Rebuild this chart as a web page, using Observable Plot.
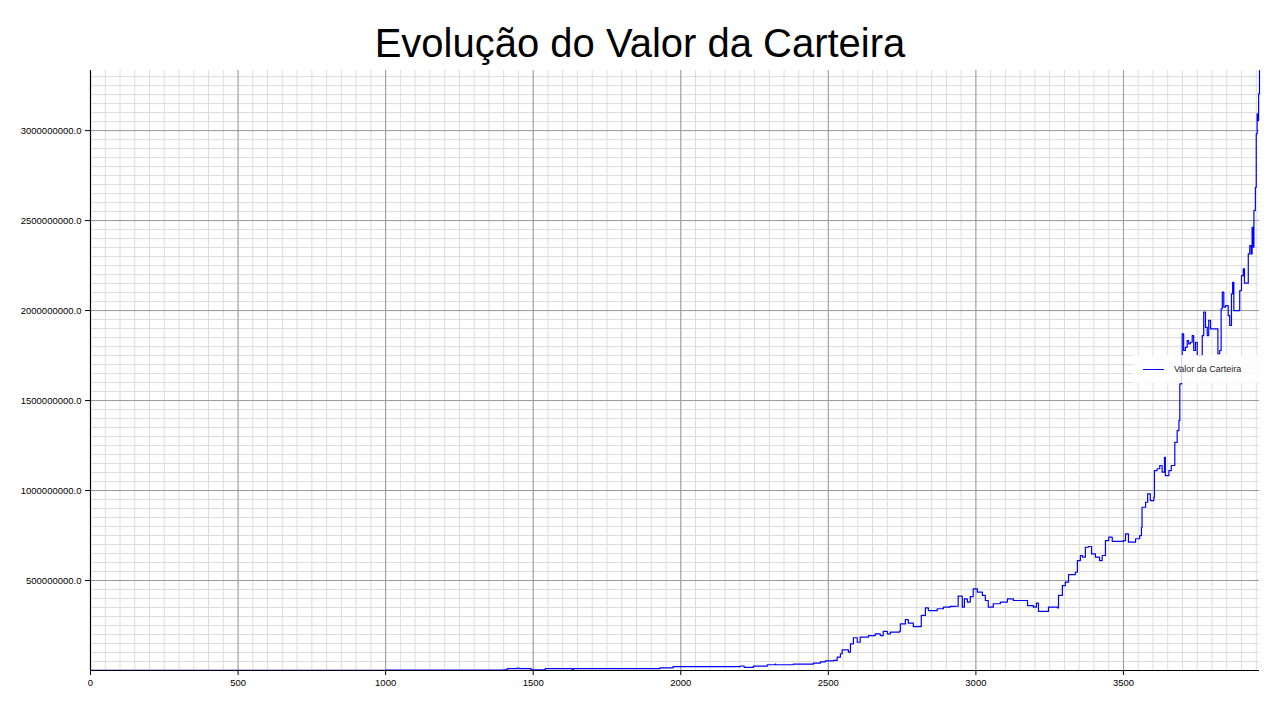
<!DOCTYPE html>
<html>
<head>
<meta charset="utf-8">
<script src="https://cdn.jsdelivr.net/npm/d3@7"></script>
<script src="https://cdn.jsdelivr.net/npm/@observablehq/plot@0.6"></script>
<style>
  html, body { margin: 0; padding: 0; background: #fff; }
  #wrap { position: relative; width: 1280px; height: 720px; font-family: "Liberation Sans", Arial, sans-serif; }
  #title { position: absolute; left: 0; top: 23px; width: 1280px; text-align: center; font-size: 40px; line-height: 40px; color: #000; }
  #legend { position: absolute; left: 1133px; top: 355px; width: 125px; height: 28px; background: rgba(255,255,255,0.85); }
  #legend .sw { position: absolute; left: 10px; top: 13.5px; width: 21px; height: 0; border-top: 1.2px solid #0000ff; }
  #legend .lb { position: absolute; left: 41px; top: 8px; font-size: 9px; line-height: 12px; color: #222; white-space: nowrap; }
</style>
</head>
<body>
<div id="wrap">
  <div id="chart"></div>
  <div id="title">Evolução do Valor da Carteira</div>
  <div id="legend"><div class="sw"></div><div class="lb">Valor da Carteira</div></div>
</div>
<script>
// Series: step index and portfolio value (in millions)
const passo = [0, 500, 1000, 1400, 1412, 1440, 1446, 1452, 1493, 1530, 1541, 1628, 1632, 1636, 1928, 1930, 1972, 1974, 2200, 2202, 2215, 2246, 2290, 2293, 2318, 2320, 2322, 2379, 2381, 2447, 2449, 2470, 2473, 2490, 2517,
  2530, 2541, 2547, 2568, 2575, 2585, 2598, 2608, 2636, 2659, 2676, 2686, 2700, 2710, 2741, 2744, 2761, 2771, 2788, 2805, 2815, 2829, 2839, 2869, 2890, 2913, 2930, 2940, 2954, 2961, 2971, 2981, 2991,
  3005, 3022, 3032, 3042, 3059, 3083, 3107, 3127, 3158, 3175, 3195, 3205, 3212, 3236, 3246, 3276, 3280, 3293, 3303, 3314, 3337, 3344, 3354, 3361, 3371, 3381, 3392, 3405, 3419, 3428, 3439, 3450, 3462,
  3500, 3507, 3517, 3541, 3555, 3561, 3563, 3575, 3582, 3591, 3603, 3605, 3614, 3623, 3631, 3639, 3642, 3654, 3662, 3671, 3674, 3682, 3688, 3691, 3697, 3699, 3704, 3710, 3716, 3721, 3727, 3733, 3738,
  3744, 3750, 3761, 3767, 3772, 3778, 3784, 3789, 3795, 3818, 3820, 3826, 3831, 3835, 3840, 3846, 3855, 3860, 3866, 3870, 3874, 3888, 3894, 3900, 3906, 3910, 3919, 3923, 3928, 3933, 3936, 3940, 3942,
  3947, 3950, 3953, 3956, 3958, 3961];
const valorMilhoes = [1, 1.5, 2, 3, 10, 10, 14, 10, 3, 3, 10, 10, 5, 10, 10, 15, 15, 21, 21, 25, 17, 24, 24, 32, 32, 36, 32, 32, 35, 35, 41, 41, 48, 54, 56,
  74, 93, 115, 102, 148, 182, 157, 185, 194, 204, 194, 217, 204, 213, 218, 259, 283, 263, 244, 244, 306, 348, 333, 343, 352, 356, 357, 413, 352, 398, 380, 411, 454,
  435, 417, 389, 352, 371, 380, 398, 389, 389, 361, 352, 374, 329, 329, 352, 348, 417, 472, 491, 533, 546, 611, 639, 630, 685, 689, 648, 630, 611, 639, 722, 741, 718,
  722, 759, 713, 732, 750, 796, 907, 935, 982, 944, 963, 1111, 1121, 1139, 1102, 1185, 1083, 1111, 1139, 1139, 1268, 1333, 1389, 1593, 1750, 1871, 1778, 1796, 1833, 1815, 1824, 1861, 1778,
  1824, 1750, 1750, 1861, 1991, 1907, 1861, 1945, 1898, 1898, 1760, 1778, 2010, 2102, 2019, 2028, 1972, 1917, 2093, 2157, 2000, 2000, 2111, 2194, 2232, 2152, 2152, 2315, 2361, 2315, 2463, 2352, 2556,
  2685, 2982, 3093, 3056, 3204, 3334];

const xTicks = [0, 500, 1000, 1500, 2000, 2500, 3000, 3500];
const yTicks = [500000000, 1000000000, 1500000000, 2000000000, 2500000000, 3000000000];

const dados = passo.map((p, i) => ({passo: p, valor: valorMilhoes[i] * 1e6}));
const xMax = d3.max(passo);
const yMax = d3.max(dados, d => d.valor);
const xMinor = d3.range(0, xMax + 1, 50);
const yMinor = d3.range(0, yMax + 1, 5e7);

const chart = Plot.plot({
  width: 1280,
  height: 720,
  marginTop: 70,
  marginBottom: 50,
  marginLeft: 90,
  marginRight: 21,
  style: {fontFamily: "'Liberation Sans', Arial, sans-serif", fontSize: "9.5px", color: "#000", background: "transparent"},
  x: {domain: [0, xMax], ticks: xTicks, tickFormat: d => String(d), tickSize: 5, tickPadding: 4, label: null},
  y: {domain: [0, yMax], ticks: yTicks, tickFormat: d => d.toFixed(1), tickSize: 5, tickPadding: 4, label: null},
  marks: [
    Plot.ruleX(xMinor, {stroke: "#dcdcdc", strokeWidth: 1}),
    Plot.ruleY(yMinor, {stroke: "#dcdcdc", strokeWidth: 1}),
    Plot.ruleX(xTicks, {stroke: "#9a9a9a", strokeWidth: 1}),
    Plot.ruleY(yTicks, {stroke: "#9a9a9a", strokeWidth: 1}),
    Plot.line(dados, {x: "passo", y: "valor", stroke: "#0000ff", strokeWidth: 1.2, curve: "step-after"}),
    Plot.ruleX([0], {stroke: "#000", strokeWidth: 1.2}),
    Plot.ruleY([0], {stroke: "#000", strokeWidth: 1.2}),
    Plot.axisX({ticks: xTicks, tickFormat: d => String(d), tickSize: 5, tickPadding: 4, stroke: "#000", fill: "#000"}),
    Plot.axisY({ticks: yTicks, tickFormat: d => d.toFixed(1), tickSize: 5, tickPadding: 4, stroke: "#000", fill: "#000"})
  ]
});
document.getElementById("chart").appendChild(chart);
</script>
</body>
</html>
